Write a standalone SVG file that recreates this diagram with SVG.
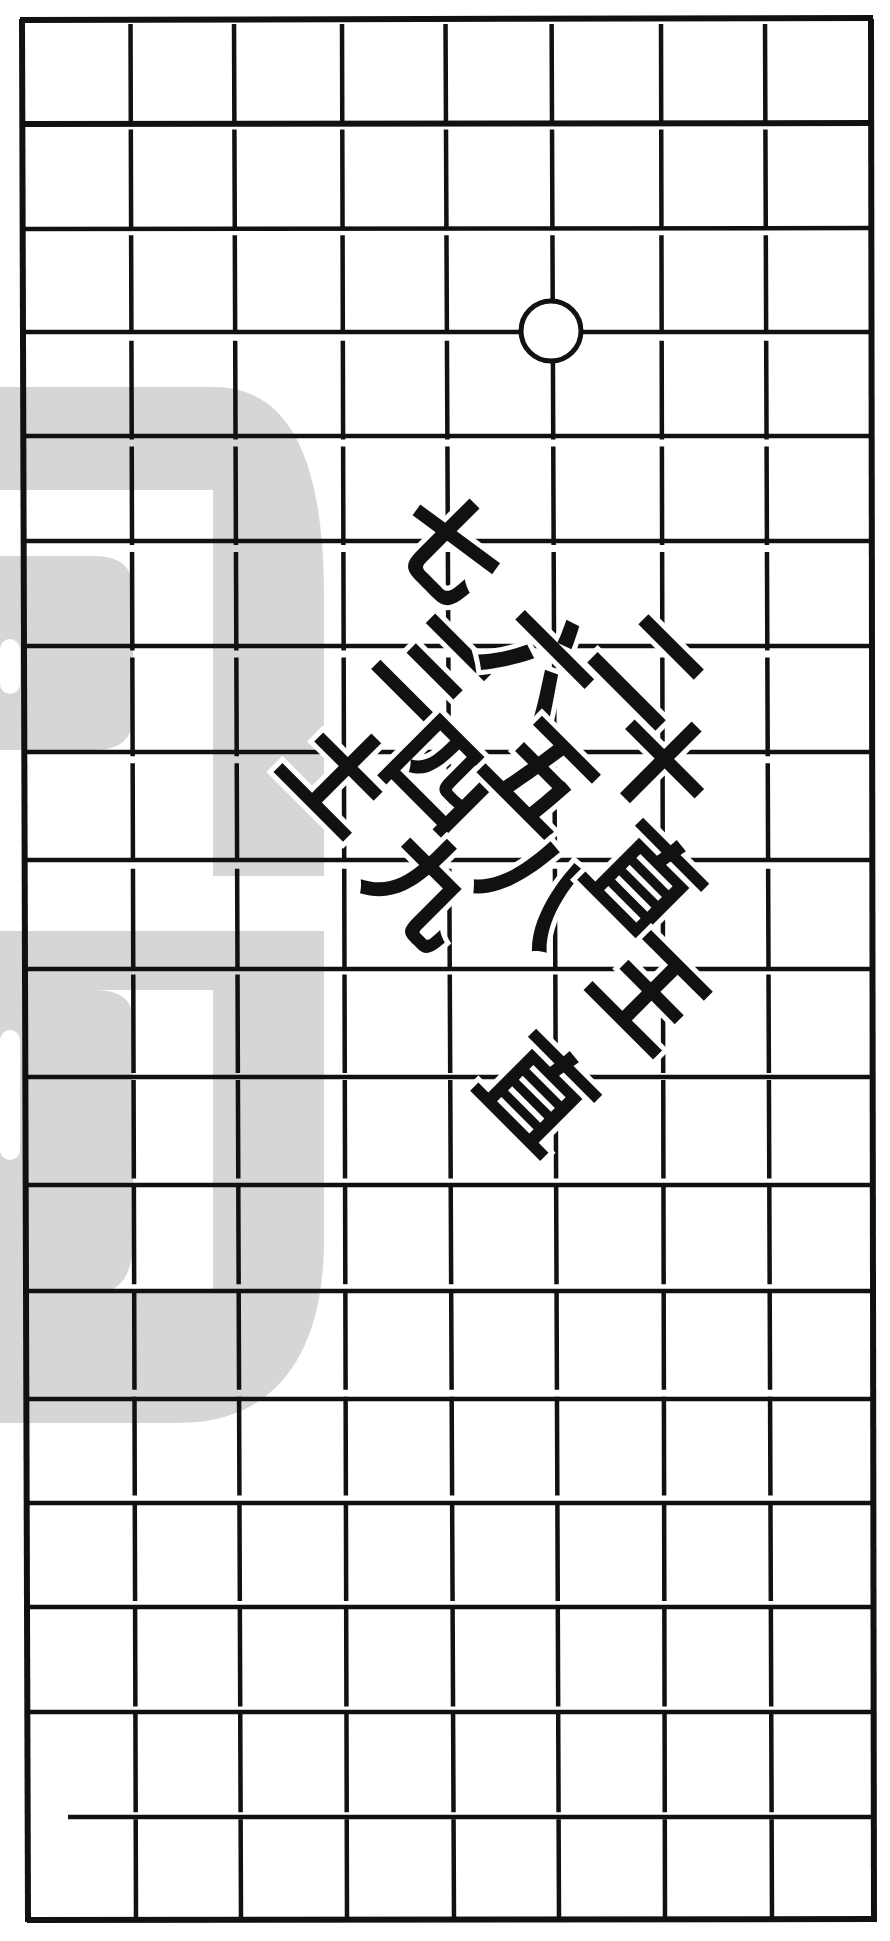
<svg xmlns="http://www.w3.org/2000/svg" width="890" height="1941" viewBox="0 0 890 1941">
<style>
.bg{fill:#ffffff}
.wm{fill:#d6d6d6}
.wh{fill:#ffffff}
.v{stroke:#111;stroke-width:4.5;fill:none;stroke-dasharray:98.6 7;stroke-dashoffset:-5}
.h{stroke:#111;stroke-width:4.5;fill:none}
.b{stroke:#111;stroke-width:6;fill:none}
.stone{fill:#fff;stroke:#111;stroke-width:5}
.t{font-family:"Noto Sans CJK SC","Noto Sans CJK JP",sans-serif;font-size:108px;font-weight:bold;fill:#111;stroke:#fff;stroke-width:10px;paint-order:stroke;text-anchor:middle;dominant-baseline:central}
</style>
<rect class="bg" x="0" y="0" width="890" height="1941"/>
<g id="watermark">
<path class="wm" d="M0,387 H213 C285,387 324,450 324,597 V876 H213 V490 H0 Z"/>
<path class="wm" d="M0,556 H95 Q133,556 133,590 V716 Q133,750 95,750 H0 Z"/>
<rect class="wh" x="0" y="639" width="20" height="55" rx="10"/>
<path class="wm" d="M0,931 H324 V1240 C324,1360 270,1423 180,1423 H0 V1293 H213 V990 H0 Z"/>
<path class="wm" d="M0,990 H95 Q133,990 133,1020 V1240 Q133,1293 95,1293 H0 Z"/>
<rect class="wh" x="0" y="1030" width="20" height="130" rx="10"/>
</g>
<g id="grid">
<line class="b" x1="22" y1="19" x2="28" y2="1922"/>
<line class="v" x1="130.5" y1="19" x2="136" y2="1920"/>
<line class="v" x1="234" y1="19" x2="241" y2="1920"/>
<line class="v" x1="342" y1="19" x2="347" y2="1920"/>
<line class="v" x1="445.5" y1="19" x2="454" y2="1920"/>
<line class="v" x1="551.6" y1="19" x2="559" y2="1920"/>
<line class="v" x1="661" y1="19" x2="665" y2="1920"/>
<line class="v" x1="765" y1="19" x2="772" y2="1920"/>
<line class="b" x1="871" y1="19" x2="874" y2="1922"/>
<line class="b" x1="20" y1="20" x2="873" y2="18"/>
<line class="b" x1="22" y1="124" x2="872" y2="123"/>
<line class="h" x1="22" y1="229" x2="872" y2="228"/>
<line class="h" x1="22" y1="332" x2="872" y2="332"/>
<line class="h" x1="23" y1="436" x2="872" y2="436"/>
<line class="h" x1="23" y1="541" x2="872" y2="541"/>
<line class="h" x1="23" y1="646" x2="872" y2="646"/>
<line class="h" x1="23" y1="752" x2="872" y2="752"/>
<line class="h" x1="24" y1="860" x2="872" y2="860"/>
<line class="h" x1="24" y1="969" x2="872" y2="969"/>
<line class="h" x1="24" y1="1077" x2="872" y2="1077"/>
<line class="h" x1="25" y1="1185" x2="873" y2="1185"/>
<line class="h" x1="25" y1="1291" x2="873" y2="1291"/>
<line class="h" x1="25" y1="1399" x2="873" y2="1399"/>
<line class="h" x1="26" y1="1503" x2="873" y2="1503"/>
<line class="h" x1="26" y1="1607" x2="873" y2="1607"/>
<line class="h" x1="27" y1="1712" x2="873" y2="1712"/>
<line class="h" x1="68" y1="1817" x2="874" y2="1817"/>
<line class="b" x1="27" y1="1920" x2="875" y2="1919"/>
</g>
<g id="stone"><circle class="stone" cx="551" cy="331" r="30"/></g>
<g id="labels">
<g id="c1"><text class="t" x="453" y="542" transform="rotate(45 453 542)">七</text></g>
<g id="c2"><text class="t" x="440" y="667" transform="rotate(45 440 667)">三</text></g>
<g id="c3"><text class="t" x="547" y="657" transform="rotate(45 547 657)">六</text></g>
<g id="c4"><text class="t" x="655" y="663" transform="rotate(45 655 663)">二</text></g>
<g id="c5"><text class="t" x="345" y="770" transform="rotate(45 345 770)">土</text></g>
<g id="c6"><text class="t" x="447" y="770" transform="rotate(45 447 770)">四</text></g>
<g id="c7"><text class="t" x="547" y="770" transform="rotate(45 547 770)">五</text></g>
<g id="c8"><text class="t" x="665" y="758" transform="rotate(45 665 758)">十</text></g>
<g id="c9"><text class="t" x="430" y="883" transform="rotate(45 430 883)">九</text></g>
<g id="c10"><text class="t" x="543" y="883" transform="rotate(45 543 883)">八</text></g>
<g id="c11"><text class="t" x="650" y="877" transform="rotate(45 650 877)">直</text></g>
<g id="c12"><text class="t" x="655" y="988" transform="rotate(45 655 988)">王</text></g>
<g id="c13"><text class="t" x="543" y="1088" transform="rotate(45 543 1088)">直</text></g>
</g>
</svg>
